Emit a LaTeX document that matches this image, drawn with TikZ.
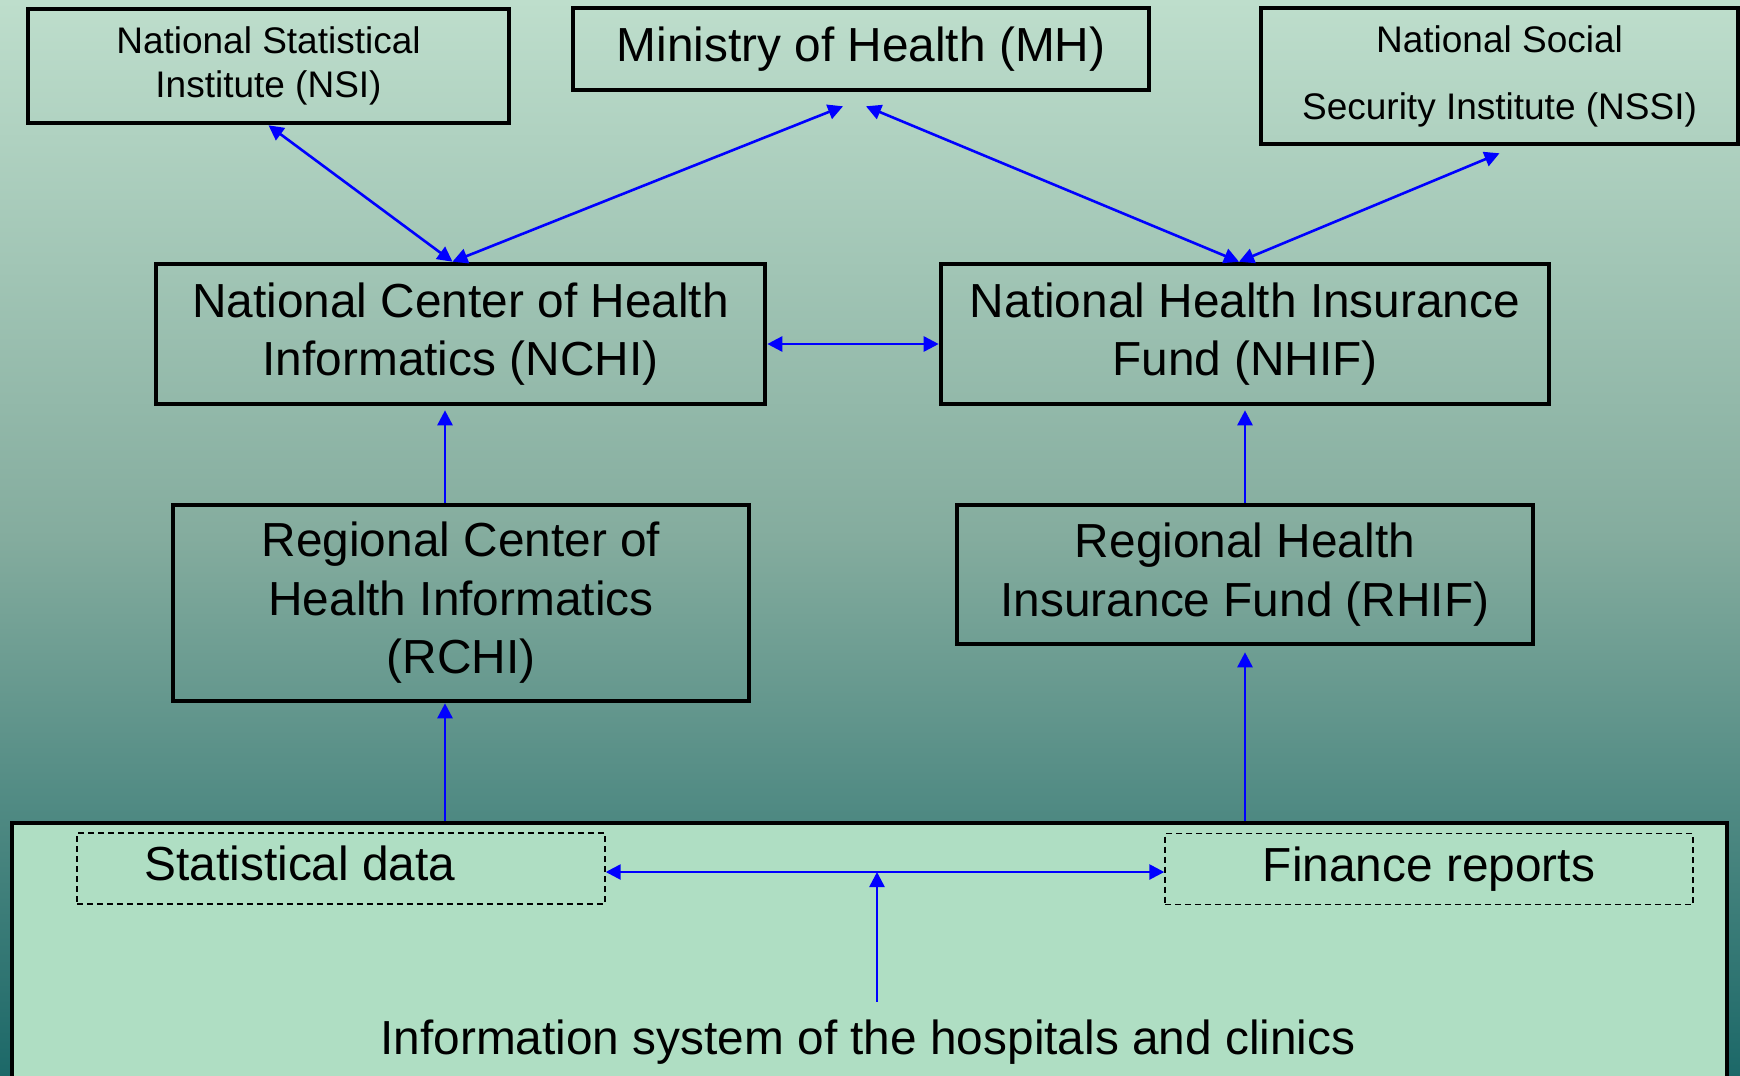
\documentclass[tikz,border=0pt]{standalone}
\usepackage{fontspec}
\setmainfont{Liberation Sans}
\usetikzlibrary{arrows.meta}
\definecolor{bgtop}{RGB}{190,222,204}
\definecolor{bgmid}{RGB}{132,172,158}
\definecolor{bgbot}{RGB}{28,104,104}
\definecolor{hisfill}{RGB}{175,222,195}
\begin{document}
\begin{tikzpicture}[x=0.5pt,y=-0.5pt,
        >={Triangle[length=7.5pt,width=7.5pt]},
        org/.style={draw,line width=2.3pt,align=center,inner sep=0pt},
        big/.style={font=\fontsize{23.9}{29.2}\selectfont},
        small/.style={font=\fontsize{18.5}{22}\selectfont},
        flow/.style={blue,line width=1.3pt},
        part/.style={draw,dash pattern=on 3pt off 2pt,line width=0.7pt,minimum width=264pt,minimum height=35.5pt,inner sep=0pt,text height=17pt,text depth=5pt}]
        \shade[top color=bgtop,bottom color=bgbot,middle color=bgmid] (0,0) rectangle (1740,1076);
        \useasboundingbox (0,0) rectangle (1740,1076);
        \node[org,small,minimum width=240.5pt,minimum height=57pt] (nsi) at (268.5,66) {National Statistical\\Institute (NSI)};
        \node[org,big,minimum width=288pt,minimum height=41pt] (mh) at (861,49) {Ministry of Health (MH)};
        \node[org,font=\fontsize{18.5}{33.5}\selectfont,minimum width=238.5pt,minimum height=68pt] (nssi) at (1499.5,76) {National Social\\Security Institute (NSSI)};
        \node[org,big,minimum width=304.5pt,minimum height=70pt] (nchi) at (460.5,334) {National Center of Health\\Informatics (NCHI)};
        \node[org,big,minimum width=304pt,minimum height=70pt] (nhif) at (1245,334) {National Health Insurance\\Fund (NHIF)};
        \node[org,big,minimum width=288pt,minimum height=98pt] (rchi) at (461,603) {Regional Center of\\Health Informatics\\(RCHI)};
        \node[org,big,minimum width=288pt,minimum height=69.5pt] (rhif) at (1245,574.5) {Regional Health\\Insurance Fund (RHIF)};
        \node[org,fill=hisfill,minimum width=857.5pt,minimum height=140pt] (his) at (869.5,963) {};
        \node[big] (histext) at (868,1042) {Information system of the hospitals and clinics};
        \node[part,big] (stat) at (341,868.5) {Statistical data\hspace*{41pt}};
        \node[part,big] (fin) at (1429,869) {Finance reports};
        \coordinate (mhl) at ([xshift=-9pt,yshift=-7pt]mh.south);
        \coordinate (mhr) at ([xshift=2.5pt,yshift=-7pt]mh.south);
        \coordinate (hub) at (877,872);
        \draw[flow,<->] (nsi.south) -- ([xshift=-4pt]nchi.north);
        \draw[flow,<->] ([xshift=-4pt]nchi.north) -- (mhl);
        \draw[flow,<->] ([xshift=-3pt]nhif.north) -- (mhr);
        \draw[flow,<->] ([xshift=-3pt]nhif.north) -- ([yshift=-3.5pt]nssi.south);
        \draw[flow,<->] ([yshift=-5pt]nchi.east) -- ([yshift=-5pt]nhif.west);
        \draw[flow,->] ([xshift=-8pt]rchi.north) -- ([xshift=-8pt,yshift=-2pt]rchi.north |- nchi.south);
        \draw[flow,->] (rhif.north) -- ([yshift=-2pt]nhif.south);
        \draw[flow,->] ([xshift=-8pt]rchi.south |- his.north) -- ([xshift=-8pt]rchi.south);
        \draw[flow,->] (rhif.south |- his.north) -- ([yshift=-3pt]rhif.south);
        \draw[flow,<->] (stat.east |- hub) -- (fin.west |- hub);
        \draw[flow,->] ([yshift=5.5pt]histext.north -| hub) -- (hub);
\end{tikzpicture}
\end{document}
